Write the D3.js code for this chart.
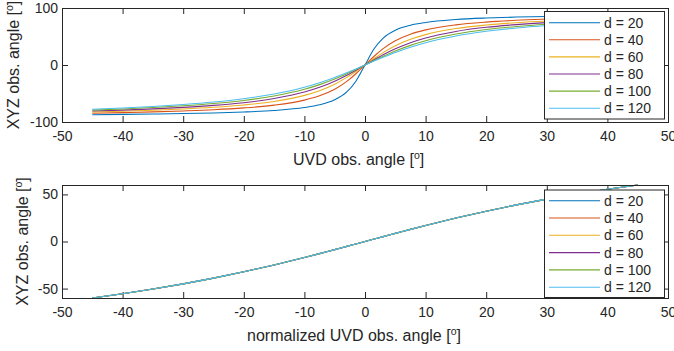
<!DOCTYPE html>
<html>
<head>
<meta charset="utf-8">
<script src="https://cdn.jsdelivr.net/npm/d3@7"></script>
<style>
  body { margin: 0; background: #fff; }
  svg { display: block; font-family: "Liberation Sans", Arial, Helvetica, sans-serif; }
</style>
</head>
<body>
<svg id="chart" width="674" height="351"></svg>
<script>
// values
const uvdAngle = [-45, -40, -35, -30, -25, -20, -15, -10, -7.5, -5, -3, -1.5, 0,
  1.5, 3, 5, 7.5, 10, 15, 20, 25, 30, 35, 40, 45];

const distances = [20, 40, 60, 80, 100, 120];

const xyzD20 = [-87.2, -86.7, -86.0, -85.2, -84.1, -82.4, -79.7, -74.6, -69.8, -61.0, -47.2, -28.4, 0,
  28.4, 47.2, 61.0, 69.8, 74.6, 79.7, 82.4, 84.1, 85.2, 86.0, 86.7, 87.2];
const xyzD40 = [-84.6, -83.5, -82.3, -80.6, -78.5, -75.3, -70.4, -61.6, -54.1, -42.6, -28.8, -15.4, 0,
  15.4, 28.8, 42.6, 54.1, 61.6, 70.4, 75.3, 78.5, 80.6, 82.3, 83.5, 84.6];
const xyzD60 = [-82.5, -81.1, -79.4, -77.2, -74.2, -70.1, -63.9, -53.3, -45.0, -33.6, -21.7, -11.3, 0,
  11.3, 21.7, 33.6, 45.0, 53.3, 63.9, 70.1, 74.2, 77.2, 79.4, 81.1, 82.5];
const xyzD80 = [-80.8, -79.1, -77.0, -74.4, -70.9, -66.1, -58.9, -47.5, -39.2, -28.4, -18.0, -9.2, 0,
  9.2, 18.0, 28.4, 39.2, 47.5, 58.9, 66.1, 70.9, 74.4, 77.0, 79.1, 80.8];
const xyzD100 = [-79.1, -77.1, -74.6, -71.6, -67.6, -62.2, -54.3, -42.5, -34.4, -24.5, -15.2, -7.8, 0,
  7.8, 15.2, 24.5, 34.4, 42.5, 54.3, 62.2, 67.6, 71.6, 74.6, 77.1, 79.1];
const xyzD120 = [-77.7, -75.5, -72.7, -69.3, -65.0, -59.1, -50.9, -39.0, -31.1, -21.9, -13.5, -6.9, 0,
  6.9, 13.5, 21.9, 31.1, 39.0, 50.9, 59.1, 65.0, 69.3, 72.7, 75.5, 77.7];

// after normalization all six curves fall on top of each other
const xyzNormalized = [-60.0, -55.5, -50.5, -45.0, -38.9, -32.2, -24.9, -17.0, -12.9, -8.6, -5.2, -2.6, 0,
  2.6, 5.2, 8.6, 12.9, 17.0, 24.9, 32.2, 38.9, 45.0, 50.5, 55.5, 60.0];

const xTicks = [-50, -40, -30, -20, -10, 0, 10, 20, 30, 40, 50];
const topYTicks = [-100, 0, 100];
const bottomYTicks = [-50, 0, 50];

const colors = ["#0072bd", "#d95319", "#edb120", "#7e2f8e", "#77ac30", "#4dbeee"];
const axisColor = "#262626";

const svg = d3.select("#chart");

const topSeries = [xyzD20, xyzD40, xyzD60, xyzD80, xyzD100, xyzD120].map((vals, i) => ({
  name: `d = ${distances[i]}`,
  points: uvdAngle.map((a, j) => [a, vals[j]])
}));
const bottomSeries = distances.map(d => ({
  name: `d = ${d}`,
  points: uvdAngle.map((a, j) => [a, xyzNormalized[j]])
}));

// "[^o]" the way the original tex label shows it
function angleLabel(sel, prefix) {
  sel.append("tspan").text(prefix + " [");
  sel.append("tspan").attr("font-size", "10.5px").attr("dy", "-0.55em").text("o");
  sel.append("tspan").attr("dy", "0.37em").text("]");
}

function drawPanel(cfg) {
  const x = d3.scaleLinear().domain([-50, 50]).range([62, 668]);
  const y = d3.scaleLinear().domain(cfg.yDomain).range([cfg.bottom, cfg.top]);
  const g = svg.append("g");

  const styleAxis = ax => {
    ax.select(".domain").remove();
    ax.selectAll("line").attr("stroke", axisColor);
    ax.selectAll("text").attr("fill", axisColor).attr("font-size", "14px")
      .attr("font-family", "Liberation Sans, Arial, sans-serif");
  };
  const plain = d => String(d);

  g.append("g")
    .attr("transform", `translate(0,${cfg.bottom})`)
    .call(d3.axisBottom(x).tickValues(xTicks).tickFormat(plain).tickSize(-6).tickPadding(9))
    .call(styleAxis);
  g.append("g")
    .attr("transform", `translate(0,${cfg.top})`)
    .call(d3.axisTop(x).tickValues(xTicks).tickSize(-6).tickFormat(""))
    .call(styleAxis);
  g.append("g")
    .attr("transform", "translate(62,0)")
    .call(d3.axisLeft(y).tickValues(cfg.yTicks).tickFormat(plain).tickSize(-6).tickPadding(4))
    .call(styleAxis);
  g.append("g")
    .attr("transform", "translate(668,0)")
    .call(d3.axisRight(y).tickValues(cfg.yTicks).tickSize(-6).tickFormat(""))
    .call(styleAxis);

  const line = d3.line()
    .x(d => x(d[0]))
    .y(d => y(d[1]))
    .curve(d3.curveMonotoneX);

  g.append("g")
    .selectAll("path")
    .data(cfg.series)
    .join("path")
    .attr("fill", "none")
    .attr("stroke", (d, i) => colors[i])
    .attr("stroke-width", 1.1)
    .attr("d", d => line(d.points));

  g.append("rect")
    .attr("x", 62.5).attr("y", cfg.top + 0.5)
    .attr("width", 606).attr("height", cfg.bottom - cfg.top)
    .attr("fill", "none")
    .attr("stroke", axisColor);

  // axis labels
  g.append("text")
    .attr("x", cfg.xLabelLeft)
    .attr("y", cfg.bottom + 43)
    .attr("font-size", "16px")
    .attr("fill", axisColor)
    .call(angleLabel, cfg.xLabel);
  g.append("text")
    .attr("transform", `translate(${cfg.yLabelX},${(cfg.top + cfg.bottom) / 2}) rotate(-90)`)
    .attr("text-anchor", "middle")
    .attr("font-size", "16px")
    .attr("fill", axisColor)
    .call(angleLabel, "XYZ obs. angle");

  // legend
  const lg = g.append("g");
  lg.append("rect")
    .attr("x", 544.5).attr("y", cfg.legendTop)
    .attr("width", 120).attr("height", cfg.legendHeight)
    .attr("fill", "#fff")
    .attr("stroke", axisColor);
  const rows = lg.selectAll("g")
    .data(cfg.series)
    .join("g")
    .attr("transform", (d, i) => `translate(0,${cfg.legendFirst + i * cfg.legendStep})`);
  rows.append("line")
    .attr("x1", 549).attr("x2", 600)
    .attr("stroke", (d, i) => colors[i])
    .attr("stroke-width", 1.1);
  rows.append("text")
    .attr("x", 604)
    .attr("dy", "0.35em")
    .attr("font-size", "14px")
    .attr("fill", axisColor)
    .text(d => d.name);
}

drawPanel({
  top: 8, bottom: 122,
  yDomain: [-100, 100], yTicks: topYTicks,
  series: topSeries,
  xLabel: "UVD obs. angle",
  xLabelLeft: 293,
  yLabelX: 19,
  legendTop: 11.5, legendHeight: 107.5, legendFirst: 22.7, legendStep: 17.1
});

drawPanel({
  top: 185, bottom: 298,
  yDomain: [-60, 60], yTicks: bottomYTicks,
  series: bottomSeries,
  xLabel: "normalized UVD obs. angle",
  xLabelLeft: 247,
  yLabelX: 27.5,
  legendTop: 190, legendHeight: 107.5, legendFirst: 200.7, legendStep: 17.3
});
</script>
</body>
</html>
